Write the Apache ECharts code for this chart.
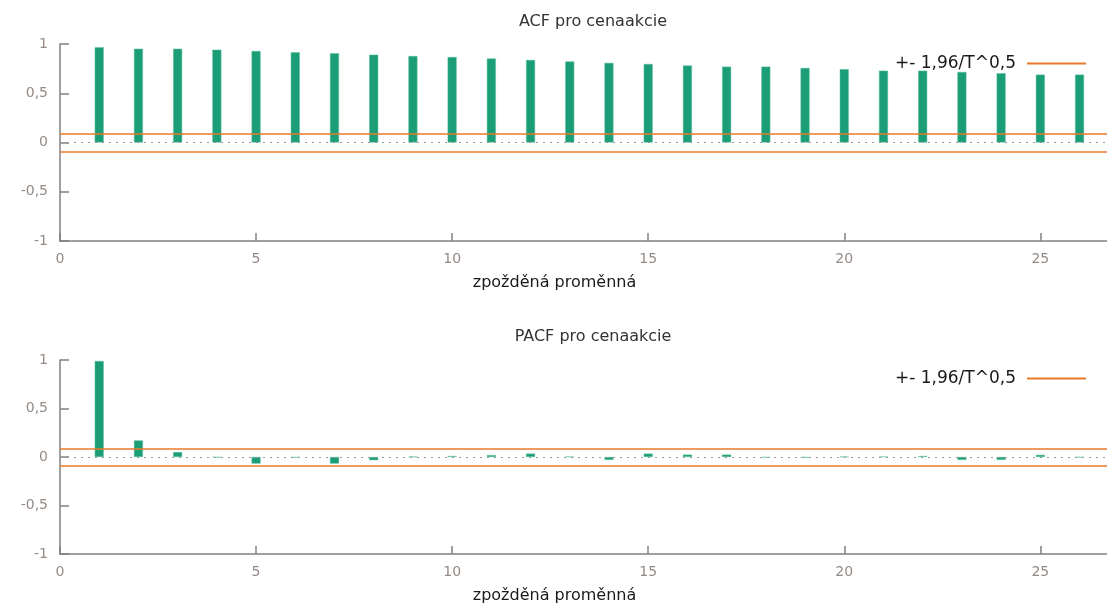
<!DOCTYPE html>
<html>
<head>
<meta charset="utf-8">
<script src="https://cdn.jsdelivr.net/npm/echarts@6/dist/echarts.min.js"></script>
<style>
  html, body { margin: 0; padding: 0; background: #ffffff; }
  #chart { width: 1107px; height: 605px; }
</style>
</head>
<body>
<div id="chart"></div>
<script>
// ---- data ----
const lags = [1, 2, 3, 4, 5, 6, 7, 8, 9, 10, 11, 12, 13, 14, 15, 16, 17, 18, 19, 20, 21, 22, 23, 24, 25, 26];
const acfValues = [0.967, 0.952, 0.952, 0.942, 0.929, 0.916, 0.906, 0.892, 0.878, 0.868, 0.853, 0.838, 0.823,
                   0.808, 0.797, 0.782, 0.770, 0.770, 0.757, 0.744, 0.729, 0.729, 0.716, 0.703, 0.689, 0.689];
const pacfValues = [0.990, 0.171, 0.051, -0.004, -0.068, -0.006, -0.068, -0.033, 0.004, 0.010, 0.020, 0.035, 0.004,
                    -0.030, 0.035, 0.025, 0.025, -0.005, -0.007, 0.004, 0.003, 0.010, -0.030, -0.030, 0.022, -0.004];
const bandValue = 0.093;              // 1.96/T^0.5
const bandName = '+- 1,96/T^0,5';
const xTickValues = [0, 5, 10, 15, 20, 25];
const titles = ['ACF pro cenaakcie', 'PACF pro cenaakcie'];
const xAxisName = 'zpožděná proměnná';

// ---- styles ----
const FONT = 'DejaVu Sans';
const GREEN = '#1b9e77';
const ORANGE = '#e8782c';
const AXIS = '#808080';
const LABEL = '#958b84';
const XMAX = 26.7;

function fmt(v) { return String(v).replace('.', ','); }

function makeX(i) {
  return {
    type: 'value', gridIndex: i, min: 0, max: XMAX, interval: 5,
    axisLine: { show: true, onZero: false, lineStyle: { color: AXIS, width: 1.5 } },
    axisTick: { show: true, inside: true, length: 8, customValues: xTickValues, lineStyle: { color: AXIS, width: 1.5 } },
    axisLabel: { customValues: xTickValues, color: LABEL, fontSize: 14, fontFamily: FONT, margin: 11, formatter: fmt },
    splitLine: { show: false },
    name: xAxisName, nameLocation: 'middle', nameGap: 34,
    nameTextStyle: { color: '#1a1a1a', fontSize: 16, fontFamily: FONT, padding: [0, 58, 0, 0] }
  };
}
function makeY(i) {
  return {
    type: 'value', gridIndex: i, min: -1, max: 1, interval: 0.5,
    axisLine: { show: true, lineStyle: { color: AXIS, width: 1.5 } },
    axisTick: { show: true, inside: true, length: 9, lineStyle: { color: AXIS, width: 1.5 } },
    axisLabel: { color: LABEL, fontSize: 14, fontFamily: FONT, margin: 12, formatter: fmt },
    splitLine: { show: false }
  };
}
function barSeries(i, values) {
  return {
    type: 'bar', xAxisIndex: i, yAxisIndex: i, barWidth: 9,
    data: lags.map((l, k) => [l, values[k]]),
    itemStyle: { color: GREEN, borderColor: '#5cbf9f', borderWidth: 0.5 },
    silent: true, z: 3
  };
}
function bandSeries(i) {
  return {
    name: bandName, type: 'line', xAxisIndex: i, yAxisIndex: i, data: [],
    color: ORANGE, itemStyle: { color: ORANGE }, lineStyle: { color: ORANGE, width: 1.5 },
    markLine: {
      silent: true, symbol: ['none', 'none'], label: { show: false },
      data: [
        { yAxis: 0, lineStyle: { color: '#9a9a9a', width: 1.2, type: [2, 5] } },
        { yAxis: bandValue, lineStyle: { color: ORANGE, width: 1.5, type: 'solid' } },
        { yAxis: -bandValue, lineStyle: { color: ORANGE, width: 1.5, type: 'solid' } }
      ]
    },
    z: 4
  };
}
function makeLegend(top) {
  return {
    data: [bandName], right: 16, top: top, align: 'right', orient: 'horizontal',
    icon: 'rect', itemWidth: 59, itemHeight: 2,
    textStyle: { color: '#1a1a1a', fontSize: 17, fontFamily: FONT, padding: [0, 6, 0, 0] },
    selectedMode: false
  };
}

const chart = echarts.init(document.getElementById('chart'), null, { renderer: 'canvas' });
chart.setOption({
  backgroundColor: '#ffffff',
  animation: false,
  textStyle: { fontFamily: FONT },
  title: [
    { text: titles[0], left: 588, top: 9, textAlign: 'center',
      textStyle: { color: '#333333', fontSize: 16, fontWeight: 'normal', fontFamily: FONT } },
    { text: titles[1], left: 588, top: 324, textAlign: 'center',
      textStyle: { color: '#333333', fontSize: 16, fontWeight: 'normal', fontFamily: FONT } }
  ],
  legend: [makeLegend(50), makeLegend(365)],
  grid: [
    { left: 60, right: 0, top: 44, height: 197 },
    { left: 60, right: 0, top: 360, height: 196 }
  ],
  xAxis: [makeX(0), makeX(1)],
  yAxis: [makeY(0), makeY(1)],
  series: [barSeries(0, acfValues), bandSeries(0), barSeries(1, pacfValues), bandSeries(1)]
});
</script>
</body>
</html>
